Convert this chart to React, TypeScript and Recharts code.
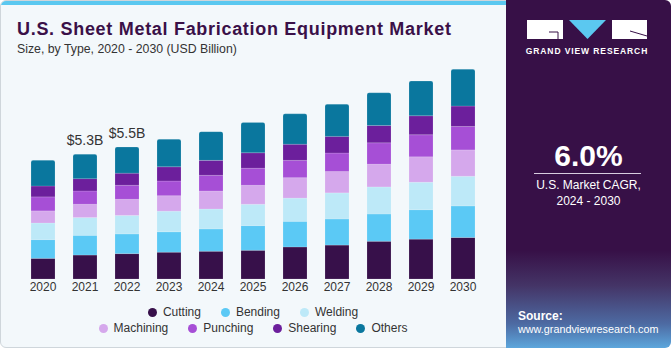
import { Bar, BarChart, LabelList, XAxis, YAxis } from "recharts";

const years = ["2020", "2021", "2022", "2023", "2024", "2025", "2026", "2027", "2028", "2029", "2030"];
const cutting = [0.87, 1.01, 1.07, 1.13, 1.17, 1.21, 1.35, 1.43, 1.59, 1.68, 1.75];
const bending = [0.79, 0.83, 0.83, 0.86, 0.94, 1.04, 1.08, 1.1, 1.15, 1.24, 1.33];
const welding = [0.7, 0.75, 0.78, 0.87, 0.84, 0.9, 0.98, 1.1, 1.14, 1.16, 1.25];
const machining = [0.51, 0.56, 0.68, 0.65, 0.76, 0.8, 0.86, 0.9, 0.96, 1.07, 1.11];
const punching = [0.59, 0.56, 0.59, 0.62, 0.66, 0.72, 0.73, 0.78, 0.9, 0.93, 0.99];
const shearing = [0.46, 0.52, 0.51, 0.6, 0.63, 0.65, 0.68, 0.7, 0.73, 0.8, 0.86];
const others = [1.08, 1.03, 1.1, 1.16, 1.21, 1.28, 1.28, 1.36, 1.38, 1.46, 1.55];
const totalLabels = ["", "$5.3B", "$5.5B", "", "", "", "", "", "", "", ""];

const series = [
  { key: "cutting", name: "Cutting", color: "#37104a", values: cutting },
  { key: "bending", name: "Bending", color: "#5bc9f5", values: bending },
  { key: "welding", name: "Welding", color: "#bde9f8", values: welding },
  { key: "machining", name: "Machining", color: "#d5a8ec", values: machining },
  { key: "punching", name: "Punching", color: "#a64fd6", values: punching },
  { key: "shearing", name: "Shearing", color: "#6c1f9c", values: shearing },
  { key: "others", name: "Others", color: "#0a779e", values: others },
];

const data = years.map((year, i) => {
  const row: Record<string, string | number> = { year, label: totalLabels[i] };
  series.forEach((s) => {
    row[s.key] = s.values[i];
  });
  return row;
});

const font = "'Liberation Sans', Arial, sans-serif";

function LegendItem({ name, color }: { name: string; color: string }) {
  return (
    <span style={{ display: "inline-flex", alignItems: "center", margin: "0 10px" }}>
      <span
        style={{ width: 9, height: 9, borderRadius: "50%", background: color, marginRight: 6 }}
      />
      {name}
    </span>
  );
}

export default function App() {
  const row1 = series.slice(0, 3);
  const row2 = series.slice(3);
  return (
    <div
      style={{
        position: "absolute",
        left: 0,
        top: 0,
        width: 671,
        height: 350,
        overflow: "hidden",
        fontFamily: font,
        background: "#ffffff",
      }}
    >
      <div
        style={{
          position: "absolute",
          left: 0,
          top: 0,
          width: 520,
          height: 348,
          background: "#f3f8fb",
          border: "1px solid #cfd6db",
          borderRadius: 6,
          boxSizing: "border-box",
          overflow: "hidden",
        }}
      >
        <div style={{ position: "absolute", left: 0, top: 0, width: "100%", height: 4, background: "#5bc8f0" }} />
      </div>

      <div
        style={{
          position: "absolute",
          left: 17,
          top: 19,
          fontSize: 18,
          fontWeight: 700,
          letterSpacing: 0.7,
          color: "#3a1048",
          whiteSpace: "nowrap",
        }}
      >
        U.S. Sheet Metal Fabrication Equipment Market
      </div>
      <div
        style={{ position: "absolute", left: 17, top: 42, fontSize: 12.3, color: "#333", whiteSpace: "nowrap" }}
      >
        Size, by Type, 2020 - 2030 (USD Billion)
      </div>

      <div style={{ position: "absolute", left: 0, top: 0 }}>
        <BarChart
          width={500}
          height={350}
          data={data}
          margin={{ top: 60, right: 16, bottom: 51, left: 22 }}
          barSize={24}
        >
          <XAxis
            dataKey="year"
            axisLine={false}
            tickLine={false}
            tickSize={0}
            tickMargin={3}
            height={20}
            interval={0}
            tick={{ fontSize: 12, fill: "#333", fontFamily: font }}
          />
          <YAxis hide domain={[0, 9.23]} />
          {series.map((s) => (
            <Bar
              key={s.key}
              dataKey={s.key}
              name={s.name}
              stackId="a"
              fill={s.color}
              stroke="#ffffff"
              strokeOpacity={0.25}
              strokeWidth={0.6}
              radius={s.key === "others" ? [2, 2, 0, 0] : 0}
              isAnimationActive={false}
            >
              {s.key === "others" && (
                <LabelList
                  dataKey="label"
                  position="top"
                  offset={9}
                  style={{ fontSize: 14, fill: "#333", fontFamily: font }}
                />
              )}
            </Bar>
          ))}
        </BarChart>
      </div>

      <div
        style={{
          position: "absolute",
          left: 0,
          top: 304,
          width: 506,
          fontSize: 12,
          color: "#333",
          lineHeight: "16px",
        }}
      >
        <div style={{ display: "flex", justifyContent: "center" }}>
          {row1.map((s) => (
            <LegendItem key={s.key} name={s.name} color={s.color} />
          ))}
        </div>
        <div style={{ display: "flex", justifyContent: "center" }}>
          {row2.map((s) => (
            <LegendItem key={s.key} name={s.name} color={s.color} />
          ))}
        </div>
      </div>

      <div
        style={{
          position: "absolute",
          left: 506,
          top: 0,
          width: 165,
          height: 348,
          borderTopRightRadius: 6,
          borderBottomRightRadius: 6,
          background:
            "linear-gradient(to bottom, #371047 0%, #371047 72%, #443466 82%, #4d6aa2 93%, #5ca6dc 100%)",
          color: "#fff",
        }}
      >
        <svg width={165} height={60} style={{ position: "absolute", left: 0, top: 0 }}>
          <rect x={21} y={20} width={36} height={19} fill="#fff" />
          <line x1={43} y1={32} x2={52} y2={32} stroke="#371047" strokeWidth={1} />
          <line x1={52} y1={32} x2={52} y2={39} stroke="#371047" strokeWidth={1} />
          <polygon points="63,20 100,20 81.5,39" fill="#5bc8f0" />
          <rect x={106} y={20} width={35} height={19} fill="#fff" />
          <line x1={124} y1={31} x2={141} y2={36} stroke="#371047" strokeWidth={1} />
          <text
            x={81}
            y={54}
            textAnchor="middle"
            fill="#fff"
            fontSize={8.5}
            fontWeight={700}
            letterSpacing={0.9}
            fontFamily={font}
          >
            GRAND VIEW RESEARCH
          </text>
        </svg>
        <div
          style={{
            position: "absolute",
            left: 0,
            width: 165,
            top: 139,
            textAlign: "center",
            fontSize: 30,
            fontWeight: 700,
          }}
        >
          6.0%
        </div>
        <div style={{ position: "absolute", left: 28, top: 173, width: 107, height: 1, background: "#d8cde0" }} />
        <div
          style={{
            position: "absolute",
            left: 0,
            width: 165,
            top: 177,
            textAlign: "center",
            fontSize: 12,
            lineHeight: "16px",
          }}
        >
          U.S. Market CAGR,
          <br />
          2024 - 2030
        </div>
        <div style={{ position: "absolute", left: 12, top: 309, fontSize: 12, fontWeight: 700 }}>Source:</div>
        <div style={{ position: "absolute", left: 12, top: 323, fontSize: 10.8, whiteSpace: "nowrap" }}>
          www.grandviewresearch.com
        </div>
      </div>
    </div>
  );
}
